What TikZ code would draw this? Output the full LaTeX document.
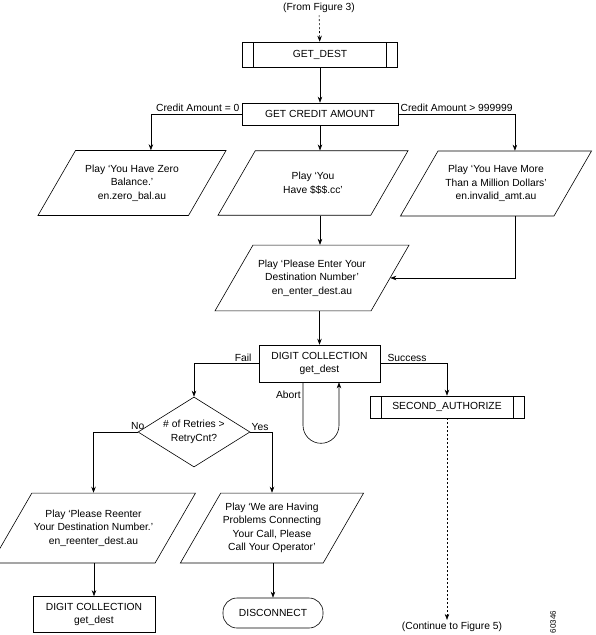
\documentclass[tikz,border=0pt]{standalone}
\usepackage{fontspec}
\setmainfont{Liberation Sans}
\usetikzlibrary{arrows.meta, positioning, shapes.geometric}

\begin{document}
\begin{tikzpicture}[x=1pt,y=1pt,line width=0.6pt,>={Stealth[length=6pt,width=4.5pt]},
  font=\fontsize{10.3}{13.5}\selectfont]
  \tikzstyle{every node}=[inner sep=2pt, align=center]
  \tikzstyle{box}=[draw, rectangle]
  \tikzstyle{subproc}=[box, path picture={
      \draw ([xshift=11pt]path picture bounding box.north west) -- ([xshift=11pt]path picture bounding box.south west);
      \draw ([xshift=-11pt]path picture bounding box.north east) -- ([xshift=-11pt]path picture bounding box.south east);}]
  % height of a parallelogram is set by inner ysep, so the slant keeps its angle
  \tikzstyle{io}=[draw, trapezium, trapezium left angle=60, trapezium right angle=120,
      trapezium stretches body, inner xsep=2pt]
  \tikzstyle{decision}=[draw, diamond, aspect=1.6, inner sep=0pt]
  \tikzstyle{term}=[draw, rectangle, rounded corners=14pt]
  \tikzstyle{flow}=[->]
  \tikzstyle{jump}=[->, dash pattern=on 2pt off 2pt]

  \useasboundingbox (0,0) rectangle (595,-635);

  \node (from_fig) at (319,-8) {(From Figure 3)};
  \node[subproc, minimum width=155, minimum height=25] (get_dest)  at (320,-54.5)  {GET\_DEST};
  \node[box, minimum width=156, minimum height=22]     (credit)    at (320,-114)   {GET CREDIT AMOUNT};
  \node[io, minimum width=188, inner ysep=14.2]        (zero)      at (132,-183)   {Play `You Have Zero\\Balance.'\\en.zero\_bal.au};
  \node[io, minimum width=190, inner ysep=21.4]        (have)      at (313,-183)   {Play `You\\Have \$\$\$.cc'};
  \node[io, minimum width=191, inner ysep=14.2]        (more)      at (496,-183.5) {Play `You Have More\\Than a Million Dollars'\\en.invalid\_amt.au};
  \node[io, minimum width=194, inner ysep=14.6]        (enter)     at (312,-278)   {Play `Please Enter Your\\Destination Number'\\en\_enter\_dest.au};
  \node[box, minimum width=121, minimum height=37]     (collect)   at (319.5,-363.5) {DIGIT COLLECTION\\get\_dest};
  \node[decision, minimum width=112, minimum height=70] (retries)  at (194,-432)   {\# of Retries >\\RetryCnt?};
  \node[subproc, minimum width=154, minimum height=22] (second)    at (447,-407)   {SECOND\_AUTHORIZE};
  \node[io, minimum width=181, inner ysep=16.7]        (reenter)   at (93.5,-528)  {Play `Please Reenter\\Your Destination Number.'\\en\_reenter\_dest.au};
  \node[io, minimum width=182, inner ysep=9.9]         (problem)   at (272,-528)   {Play `We are Having\\Problems Connecting\\Your Call, Please\\Call Your Operator'};
  \node[box, minimum width=122, minimum height=36]     (collect_2) at (94,-614.5)  {DIGIT COLLECTION\\get\_dest};
  \node[term, minimum width=100, minimum height=30]    (disconnect) at (273,-613)  {DISCONNECT};
  \node (to_fig) at (452,-627) {(Continue to Figure 5)};
  \node[rotate=90, font=\fontsize{8}{9}\selectfont] (fig_id) at (553,-622) {60346};

  \draw[jump] (from_fig) -- (get_dest);
  \draw[flow] (get_dest) -- (credit);
  \draw[flow] (credit.west) -| node[pos=0, above left] {Credit Amount = 0} (zero.top side);
  \draw[flow] (credit.east) -| node[pos=0, above right] {Credit Amount > 999999} (more.top side);
  \draw[flow] (credit.south) -- (credit |- have.north);
  \draw[flow] (credit |- have.south) -- (credit |- enter.north);
  \draw[flow] (more.top side |- more.south) |- (enter.right side);
  \draw[flow] (enter.south -| collect.north) -- (collect.north);
  \draw[flow] (collect.west) -| node[pos=0, above left, xshift=-5pt] {Fail} (retries.north);
  \draw[flow] (collect.east) -| node[pos=0, above right, xshift=5pt] {Success} (second.north);
  \draw[flow] ([xshift=-16.5pt]collect.south) -- node[left, pos=0.3] {Abort} ++(0,-43)
    arc[start angle=180, end angle=360, radius=18] -- ([xshift=19.5pt]collect.south);
  \draw[flow] (retries.west) -| node[pos=0, above] {No} (reenter.north);
  \draw[flow] (retries.east) -| node[pos=0, above right, inner sep=1pt] {Yes} (problem.north);
  \draw[flow] (collect_2.north |- reenter.south) -- (collect_2.north);
  \draw[flow] (disconnect.north |- problem.south) -- (disconnect.north);
  \draw[jump] (second.south) -- (second.south |- to_fig.north);
\end{tikzpicture}
\end{document}
